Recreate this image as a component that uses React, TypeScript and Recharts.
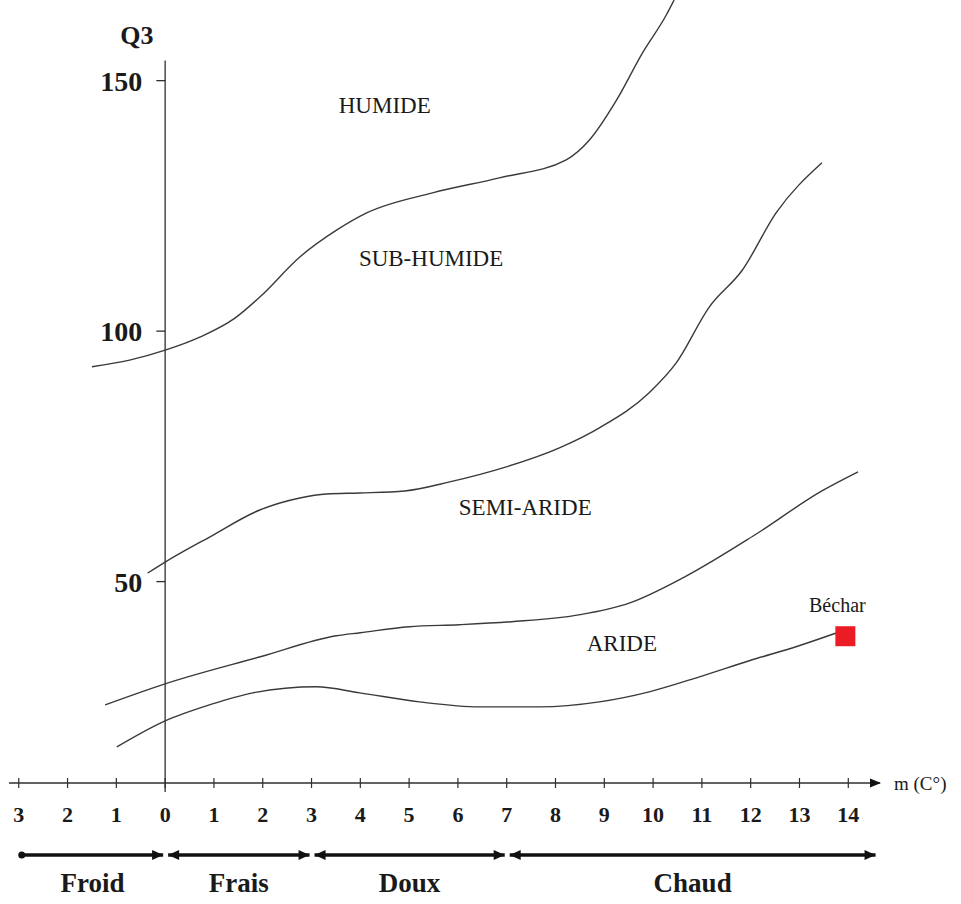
import {
  ComposedChart,
  Line,
  Scatter,
  XAxis,
  YAxis,
  ReferenceLine,
  ReferenceDot
} from "recharts"

const INK = "#2f2f2f"
const SERIF = '"Liberation Serif", "Times New Roman", serif'

// axis ranges: m (°C) horizontally, Q3 vertically
const X_MIN = -3.2
const X_MAX = 14.65
const Y_MIN = 9.8
const Y_MAX = 166.1
const Q3_AXIS_TOP = 154
const Q3_AXIS_BOTTOM = 8

const M_TICKS = [-3, -2, -1, 0, 1, 2, 3, 4, 5, 6, 7, 8, 9, 10, 11, 12, 13, 14]
const Q3_TICKS = [50, 100, 150]

// temperature classes along the m axis
const BAND_NAMES = ["Froid", "Frais", "Doux", "Chaud"]
const BAND_EDGES = [-3, 0, 3, 7, 14.6]

// boundary humide / sub-humide
const humideLimit = [
  { m: -1.5, q3: 92.9 },
  { m: -0.73, q3: 94.2 },
  { m: 0, q3: 96.2 },
  { m: 0.71, q3: 98.8 },
  { m: 1.43, q3: 102.6 },
  { m: 1.94, q3: 106.8 },
  { m: 2.76, q3: 114.8 },
  { m: 3.52, q3: 120.2 },
  { m: 4.13, q3: 123.6 },
  { m: 5.48, q3: 127.6 },
  { m: 6.85, q3: 130.6 },
  { m: 8.22, q3: 134.2 },
  { m: 8.7, q3: 138.2 },
  { m: 9.25, q3: 146.1 },
  { m: 9.78, q3: 155.5 },
  { m: 10.27, q3: 163.1 },
  { m: 10.43, q3: 166.1 }
]

// boundary sub-humide / semi-aride
const subHumideLimit = [
  { m: -0.36, q3: 51.7 },
  { m: 0, q3: 53.9 },
  { m: 0.91, q3: 58.9 },
  { m: 1.94, q3: 64.3 },
  { m: 2.76, q3: 66.7 },
  { m: 3.31, q3: 67.5 },
  { m: 3.99, q3: 67.7 },
  { m: 4.91, q3: 68.1 },
  { m: 5.83, q3: 69.9 },
  { m: 6.99, q3: 72.9 },
  { m: 8.08, q3: 76.7 },
  { m: 8.9, q3: 80.7 },
  { m: 9.92, q3: 87.7 },
  { m: 10.47, q3: 93.6 },
  { m: 11.15, q3: 104.8 },
  { m: 11.83, q3: 112.2 },
  { m: 12.52, q3: 123.6 },
  { m: 13.46, q3: 133.6 }
]

// boundary semi-aride / aride
const semiArideLimit = [
  { m: -1.23, q3: 25.4 },
  { m: 0, q3: 29.6 },
  { m: 1.95, q3: 35.0 },
  { m: 3.51, q3: 39.2 },
  { m: 4.0, q3: 39.8 },
  { m: 5.0, q3: 41.0 },
  { m: 6.03, q3: 41.4 },
  { m: 7.1, q3: 42.0 },
  { m: 8.51, q3: 43.4 },
  { m: 9.51, q3: 45.7 },
  { m: 10.64, q3: 50.9 },
  { m: 12.05, q3: 59.1 },
  { m: 13.46, q3: 68.1 },
  { m: 14.2, q3: 71.9 }
]

// lower limit of the aride stage
const arideLimit = [
  { m: -0.99, q3: 17.0 },
  { m: 0, q3: 22.2 },
  { m: 0.91, q3: 25.4 },
  { m: 1.8, q3: 27.8 },
  { m: 3.1, q3: 29.0 },
  { m: 3.99, q3: 27.8 },
  { m: 5.21, q3: 26.0 },
  { m: 6.44, q3: 25.0 },
  { m: 7.67, q3: 25.0 },
  { m: 8.9, q3: 26.0 },
  { m: 9.92, q3: 28.0 },
  { m: 10.95, q3: 31.0 },
  { m: 11.97, q3: 34.2 },
  { m: 12.99, q3: 37.2 },
  { m: 13.77, q3: 39.8 }
]

const stations = [{ m: 13.94, q3: 39.1, name: "Béchar" }]

const ZONE_NAMES = ["HUMIDE", "SUB-HUMIDE", "SEMI-ARIDE", "ARIDE"]
const ZONE_M = [4.5, 5.45, 7.38, 9.36]
const ZONE_Q3 = [145.1, 114.6, 65.0, 37.8]

const curves = [humideLimit, subHumideLimit, semiArideLimit, arideLimit]

function MTick({ x, y, payload }: any) {
  return (
    <g>
      <line x1={x} x2={x} y1={y - 5} y2={y + 5} stroke={INK} strokeWidth={1.2} />
      <text
        x={x}
        y={y + 39}
        textAnchor="middle"
        fontFamily={SERIF}
        fontWeight="bold"
        fontSize={22}
        fill="#1a1a1a"
      >
        {Math.abs(payload.value)}
      </text>
    </g>
  )
}

function BandArrow({ x1, x2, y1, name, leftDot }: any) {
  const y = y1 + 72
  const a = x1 + 3
  const b = x2 - 2
  return (
    <g>
      <line x1={a} x2={b} y1={y} y2={y} stroke="#111" strokeWidth={3.5} />
      <polygon points={`${b},${y} ${b - 11},${y - 5} ${b - 11},${y + 5}`} fill="#111" />
      {leftDot ? (
        <circle cx={a} cy={y} r={3.5} fill="#111" />
      ) : (
        <polygon points={`${a},${y} ${a + 11},${y - 5} ${a + 11},${y + 5}`} fill="#111" />
      )}
      <text
        x={(a + b) / 2}
        y={y + 37}
        textAnchor="middle"
        fontFamily={SERIF}
        fontWeight="bold"
        fontSize={27}
        fill="#1a1a1a"
      >
        {name}
      </text>
    </g>
  )
}

function StationMark({ cx, cy, payload }: any) {
  return (
    <g>
      <rect x={cx - 10} y={cy - 10} width={20} height={20} fill="#ec1c24" />
      <text
        x={cx - 8}
        y={cy - 24}
        textAnchor="middle"
        fontFamily={SERIF}
        fontSize={20}
        fill="#1a1a1a"
      >
        {payload.name}
      </text>
    </g>
  )
}

export default function App() {
  return (
    <div
      style={{
        position: "absolute",
        left: 0,
        top: 0,
        width: 961,
        height: 904,
        background: "#fff"
      }}
    >
      <ComposedChart
        width={961}
        height={904}
        margin={{ top: 0, right: 81, bottom: 0, left: 9 }}
      >
        <XAxis
          type="number"
          dataKey="m"
          domain={[X_MIN, X_MAX]}
          allowDataOverflow
          ticks={M_TICKS}
          interval={0}
          height={121}
          tickLine={false}
          tickSize={0}
          tickMargin={0}
          axisLine={{ stroke: INK, strokeWidth: 1.3 }}
          tick={<MTick />}
        />
        <YAxis type="number" dataKey="q3" domain={[Y_MIN, Y_MAX]} allowDataOverflow hide />

        {/* vertical Q3 axis drawn at m = 0 */}
        <ReferenceLine
          segment={[
            { x: 0, y: Q3_AXIS_BOTTOM },
            { x: 0, y: Q3_AXIS_TOP }
          ]}
          stroke={INK}
          strokeWidth={1.3}
          ifOverflow="visible"
        />
        {Q3_TICKS.map((v) => (
          <ReferenceLine
            key={`q3-${v}`}
            segment={[
              { x: -0.18, y: v },
              { x: 0, y: v }
            ]}
            stroke={INK}
            strokeWidth={1.3}
            ifOverflow="visible"
            label={{
              value: String(v),
              position: "left",
              offset: 14,
              fontFamily: SERIF,
              fontWeight: "bold",
              fontSize: 28,
              fill: "#1a1a1a"
            }}
          />
        ))}
        <ReferenceDot
          x={-0.58}
          y={159.2}
          r={1}
          fill="none"
          stroke="none"
          ifOverflow="visible"
          label={{
            value: "Q3",
            position: "center",
            fontFamily: SERIF,
            fontWeight: "bold",
            fontSize: 26,
            fill: "#1a1a1a"
          }}
        />

        {/* arrow head and unit at the end of the m axis */}
        <ReferenceDot
          x={X_MAX}
          y={Y_MIN}
          r={4}
          ifOverflow="visible"
          shape={(p: any) => (
            <polygon
              points={`${p.cx + 1},${p.cy} ${p.cx - 10},${p.cy - 4.5} ${p.cx - 10},${p.cy + 4.5}`}
              fill="#111"
            />
          )}
          label={{
            value: "m (C°)",
            position: "right",
            offset: 10,
            fontFamily: SERIF,
            fontSize: 19,
            fill: "#1a1a1a"
          }}
        />

        {/* temperature classes under the axis */}
        {BAND_NAMES.map((name, i) => (
          <ReferenceLine
            key={name}
            segment={[
              { x: BAND_EDGES[i], y: Y_MIN },
              { x: BAND_EDGES[i + 1], y: Y_MIN }
            ]}
            ifOverflow="visible"
            shape={(p: any) => <BandArrow {...p} name={name} leftDot={i === 0} />}
          />
        ))}

        {/* bioclimatic stages */}
        {ZONE_NAMES.map((name, i) => (
          <ReferenceDot
            key={name}
            x={ZONE_M[i]}
            y={ZONE_Q3[i]}
            r={1}
            fill="none"
            stroke="none"
            label={{
              value: name,
              position: "center",
              fontFamily: SERIF,
              fontSize: 23,
              fill: "#1a1a1a"
            }}
          />
        ))}

        {curves.map((data, i) => (
          <Line
            key={`limit-${i}`}
            data={data}
            dataKey="q3"
            type="monotone"
            stroke="#3a3a3a"
            strokeWidth={1.4}
            dot={false}
            activeDot={false}
            isAnimationActive={false}
          />
        ))}

        <Scatter
          data={stations}
          dataKey="q3"
          shape={<StationMark />}
          isAnimationActive={false}
        />
      </ComposedChart>
    </div>
  )
}
